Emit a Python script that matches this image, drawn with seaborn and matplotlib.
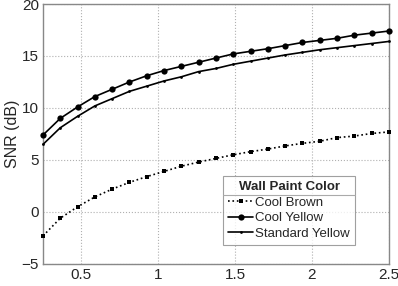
import numpy as np
import pandas as pd
import matplotlib
matplotlib.use('Agg')
import matplotlib.pyplot as plt
import seaborn as sns
from matplotlib.lines import Line2D

# distances (m) and SNR values
distance = [0.25, 0.3625, 0.475, 0.5875, 0.7, 0.8125, 0.925, 1.0375, 1.15, 1.2625, 1.375,
            1.4875, 1.6, 1.7125, 1.825, 1.9375, 2.05, 2.1625, 2.275, 2.3875, 2.5]
cool_brown = [-2.3, -0.6, 0.5, 1.45, 2.2, 2.85, 3.4, 3.9, 4.4, 4.8, 5.15,
              5.5, 5.8, 6.05, 6.35, 6.6, 6.8, 7.15, 7.3, 7.55, 7.7]
cool_yellow = [7.4, 9.0, 10.1, 11.1, 11.8, 12.5, 13.1, 13.6, 14.0, 14.4, 14.8,
               15.2, 15.45, 15.7, 16.0, 16.3, 16.5, 16.7, 17.0, 17.2, 17.4]
standard_yellow = [6.5, 8.1, 9.2, 10.2, 10.9, 11.6, 12.1, 12.6, 13.0, 13.5, 13.8,
                   14.2, 14.5, 14.8, 15.1, 15.35, 15.6, 15.8, 16.0, 16.2, 16.4]
series_names = ['Cool Brown', 'Cool Yellow', 'Standard Yellow']

sns.set_style('white')
plt.rcParams['font.family'] = ['Liberation Sans', 'DejaVu Sans']

fig = plt.figure(figsize=(3.98, 2.86), dpi=100)
ax = fig.add_axes([0.108, 0.077, 0.869, 0.909])

styles = {
    'Cool Brown': dict(linestyle=':', marker='s', markersize=3.5),
    'Cool Yellow': dict(linestyle='-', marker='o', markersize=4.5),
    'Standard Yellow': dict(linestyle='-', marker='.', markersize=4),
}
for name, vals in zip(series_names, [cool_brown, cool_yellow, standard_yellow]):
    sns.lineplot(x=distance, y=vals, ax=ax, color='black', linewidth=1.2,
                 label=name, markeredgewidth=0, clip_on=False, zorder=3, **styles[name])

ax.set_xlim(0.25, 2.5)
ax.set_ylim(-5, 20)
ax.set_xticks([0.5, 1, 1.5, 2, 2.5])
ax.set_xticklabels(['0.5', '1', '1.5', '2', '2.5'])
ax.set_yticks([-5, 0, 5, 10, 15, 20])
ax.grid(True, linestyle=':', color='#b0b0b0', linewidth=0.8)
ax.tick_params(direction='in', length=3, color='#555555', labelsize=11, pad=3)
for s in ax.spines.values():
    s.set_color('#888888')
    s.set_linewidth(1.0)
ax.set_ylabel('SNR (dB)', fontsize=11.5, labelpad=1)
ax.set_xlabel('')

leg = ax.legend(title='Wall Paint Color', loc='lower left', bbox_to_anchor=(0.52, 0.073),
                frameon=True, fancybox=False, edgecolor='#888888', fontsize=9.5,
                title_fontproperties={'weight': 'bold', 'size': 9.5},
                handlelength=1.9, handletextpad=0.15, borderpad=0.4, labelspacing=0.25,
                borderaxespad=0)
leg.get_frame().set_linewidth(0.8)

# separator line under the legend title
fig.canvas.draw()
r = fig.canvas.get_renderer()
fb = leg.get_frame().get_window_extent(r)
tb = leg.get_title().get_window_extent(r)
y_line = tb.y0 - 2
inv = fig.transFigure.inverted()
x0, y0 = inv.transform((fb.x0, y_line))
x1, _ = inv.transform((fb.x1, y_line))
fig.add_artist(Line2D([x0, x1], [y0, y0], color='#aaaaaa', linewidth=0.8))

fig.savefig('out.png', dpi=100)
